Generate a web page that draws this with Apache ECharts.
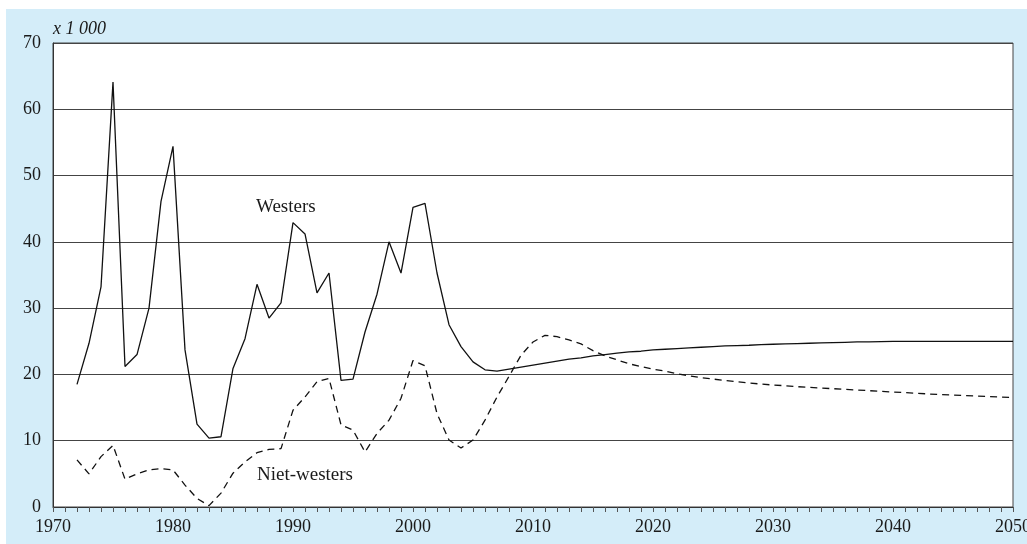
<!DOCTYPE html>
<html>
<head>
<meta charset="utf-8">
<script src="https://cdn.jsdelivr.net/npm/echarts@6/dist/echarts.min.js"></script>
<style>
  html, body { margin: 0; padding: 0; background: #fff; }
  #chart { width: 1027px; height: 544px; }
</style>
</head>
<body>
<div id="chart"></div>
<script>
// years 1972 - 2050
const years = [
  1972, 1973, 1974, 1975, 1976, 1977, 1978, 1979, 1980, 1981,
  1982, 1983, 1984, 1985, 1986, 1987, 1988, 1989, 1990, 1991,
  1992, 1993, 1994, 1995, 1996, 1997, 1998, 1999, 2000, 2001,
  2002, 2003, 2004, 2005, 2006, 2007, 2008, 2009, 2010, 2011,
  2012, 2013, 2014, 2015, 2016, 2017, 2018, 2019, 2020, 2021,
  2022, 2023, 2024, 2025, 2026, 2027, 2028, 2029, 2030, 2031,
  2032, 2033, 2034, 2035, 2036, 2037, 2038, 2039, 2040, 2041,
  2042, 2043, 2044, 2045, 2046, 2047, 2048, 2049, 2050
]

// x 1 000
const westers = [
  18.5, 24.7, 33.2, 64.1, 21.2, 23.0, 30.0, 46.1, 54.4, 23.7,
  12.5, 10.4, 10.6, 20.9, 25.4, 33.6, 28.5, 30.8, 42.9, 41.2,
  32.3, 35.3, 19.1, 19.3, 26.4, 32.1, 40.0, 35.3, 45.2, 45.8,
  35.3, 27.5, 24.2, 21.9, 20.7, 20.5, 20.8, 21.1, 21.4, 21.7,
  22.0, 22.3, 22.5, 22.8, 23.0, 23.2, 23.4, 23.5, 23.7, 23.8,
  23.9, 24.0, 24.1, 24.2, 24.3, 24.35, 24.4, 24.5, 24.55, 24.6,
  24.65, 24.7, 24.75, 24.8, 24.85, 24.9, 24.9, 24.95, 25.0, 25.0,
  25.0, 25.0, 25.0, 25.0, 25.0, 25.0, 25.0, 25.0, 25.0
]

const nietWesters = [
  7.1, 5.0, 7.6, 9.3, 4.2, 5.0, 5.6, 5.8, 5.6, 3.3,
  1.3, 0.2, 2.1, 5.1, 6.8, 8.2, 8.7, 8.8, 14.6, 16.6,
  18.9, 19.4, 12.4, 11.6, 8.3, 11.1, 13.1, 16.4, 22.1, 21.3,
  14.1, 10.1, 8.9, 10.1, 13.1, 16.6, 19.7, 22.9, 24.9, 25.9,
  25.7, 25.2, 24.6, 23.6, 22.8, 22.2, 21.6, 21.2, 20.8, 20.5,
  20.1, 19.8, 19.5, 19.3, 19.1, 18.9, 18.7, 18.55, 18.4, 18.3,
  18.15, 18.05, 17.95, 17.85, 17.75, 17.65, 17.55, 17.45, 17.35, 17.25,
  17.15, 17.05, 16.95, 16.9, 16.8, 16.75, 16.65, 16.6, 16.5
]

const yTicks = [0, 10, 20, 30, 40, 50, 60, 70]
const xTicks = [1970, 1980, 1990, 2000, 2010, 2020, 2030, 2040, 2050]

const font = '"Liberation Serif", "DejaVu Serif", serif'
const ink = '#1a1a1a'

const chart = echarts.init(document.getElementById('chart'))

const pairs = (vals) => years.map((y, i) => [y, vals[i]])

const option = {
  animation: false,
  backgroundColor: '#fff',
  textStyle: { fontFamily: font },
  graphic: [
    {
      type: 'rect',
      left: 6, top: 9,
      shape: { width: 1021, height: 535 },
      style: { fill: '#d4edf9' },
      z: -10, silent: true
    },
    {
      type: 'text',
      left: 53, top: 20,
      style: {
        text: 'x 1 000',
        font: 'italic 18px ' + font,
        fill: ink
      }
    }
  ],
  grid: {
    left: 53, right: 14, top: 43, bottom: 37,
    outerBoundsMode: 'none',
    show: true,
    backgroundColor: '#fff',
    borderColor: '#444',
    borderWidth: 1
  },
  xAxis: {
    type: 'value',
    min: xTicks[0],
    max: xTicks[xTicks.length - 1],
    interval: 10,
    axisLine: { show: true, lineStyle: { color: '#333', width: 1 } },
    axisTick: { show: true, length: 5, lineStyle: { color: '#555' } },
    minorTick: { show: true, splitNumber: 10, length: 5, lineStyle: { color: '#555' } },
    splitLine: { show: false },
    axisLabel: { color: ink, fontSize: 18, fontFamily: font, margin: 11, formatter: (v) => String(v) }
  },
  yAxis: {
    type: 'value',
    min: yTicks[0],
    max: yTicks[yTicks.length - 1],
    interval: 10,
    axisLine: { show: true, lineStyle: { color: '#333', width: 1 } },
    axisTick: { show: false },
    splitLine: { show: true, lineStyle: { color: '#444', width: 1 } },
    axisLabel: { color: ink, fontSize: 18, fontFamily: font, margin: 12 }
  },
  series: [
    {
      name: 'Westers',
      type: 'line',
      data: pairs(westers),
      symbol: 'none',
      lineStyle: { color: '#111', width: 1.3, type: 'solid' },
      markPoint: {
        symbol: 'rect', symbolSize: 0,
        label: { show: true, formatter: 'Westers', color: ink, fontSize: 19, fontFamily: font },
        data: [{ coord: [1989.4, 45.3] }]
      }
    },
    {
      name: 'Niet-westers',
      type: 'line',
      data: pairs(nietWesters),
      symbol: 'none',
      lineStyle: { color: '#111', width: 1.3, type: [7, 5] },
      markPoint: {
        symbol: 'rect', symbolSize: 0,
        label: { show: true, formatter: 'Niet-westers', color: ink, fontSize: 19, fontFamily: font },
        data: [{ coord: [1991.0, 4.8] }]
      }
    }
  ]
}

chart.setOption(option)
</script>
</body>
</html>
